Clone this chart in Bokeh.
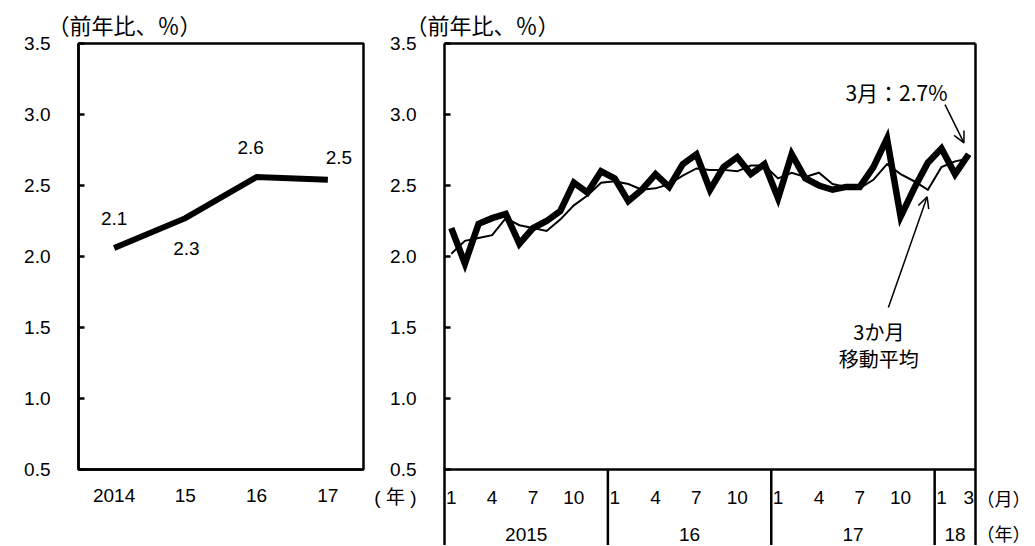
from bokeh.plotting import figure
from bokeh.layouts import row
from bokeh.models import (Range1d, FixedTicker, LinearAxis, Label, Arrow, OpenHead,
                          Span, ColumnDataSource, PrintfTickFormatter, Title)
from bokeh.core.properties import value
from bokeh.embed import file_html
from bokeh.resources import INLINE

# ---------------- data ----------------
annual_labels = ["2014", "15", "16", "17"]
annual_values = [2.06, 2.27, 2.56, 2.54]

month_numbers = [1, 2, 3, 4, 5, 6, 7, 8, 9, 10, 11, 12,
                 1, 2, 3, 4, 5, 6, 7, 8, 9, 10, 11, 12,
                 1, 2, 3, 4, 5, 6, 7, 8, 9, 10, 11, 12,
                 1, 2, 3]
year_labels = ["2015", "16", "17", "18"]
monthly_values = [2.20, 1.95, 2.23, 2.27, 2.30, 2.09, 2.20, 2.25, 2.32, 2.52, 2.45, 2.60,
                  2.55, 2.39, 2.47, 2.58, 2.49, 2.65, 2.72, 2.47, 2.63, 2.70, 2.58, 2.65,
                  2.41, 2.72, 2.55, 2.50, 2.47, 2.49, 2.49, 2.63, 2.83, 2.28, 2.48, 2.66,
                  2.76, 2.58, 2.72]
moving_average = [2.02, 2.11, 2.13, 2.15, 2.27, 2.22, 2.20, 2.18, 2.26, 2.36, 2.43, 2.52,
                  2.53, 2.51, 2.47, 2.48, 2.51, 2.57, 2.62, 2.61, 2.61, 2.60, 2.64, 2.64,
                  2.55, 2.59, 2.56, 2.59, 2.51, 2.49, 2.48, 2.54, 2.65, 2.58, 2.53, 2.47,
                  2.63, 2.67, 2.69]
y_ticks = [0.5, 1.0, 1.5, 2.0, 2.5, 3.0, 3.5]
shown_months = [1, 4, 7, 10]
unit_title = "（前年比、％）"

# ---------------- style ----------------
NUM_FONT = "Liberation Sans"
JP_FONT = "Noto Sans CJK JP"
MIX_FONT = "Liberation Sans, Noto Sans CJK JP"
BLACK = "#000000"
AXIS_W = 2.5
FS = "19px"
Y_TOP = 3.5
PX_PER_UNIT = 142.0
MONTH_ROW = 0.3     # value level of the month-label row under the axis
YEAR_ROW = 0.04     # value level of the year-label row


def style_y_axis(ax, extra_ticks=(), overrides=None):
    ax.ticker = FixedTicker(ticks=list(y_ticks) + list(extra_ticks), minor_ticks=y_ticks)
    ax.formatter = PrintfTickFormatter(format="%.1f")
    if overrides:
        ax.major_label_overrides = overrides
    ax.axis_line_color = BLACK
    ax.axis_line_width = AXIS_W
    ax.major_tick_line_color = None
    ax.major_tick_in = 0
    ax.major_tick_out = 0
    ax.minor_tick_in = 6
    ax.minor_tick_out = 0
    ax.minor_tick_line_width = AXIS_W
    ax.minor_tick_line_color = BLACK
    ax.major_label_standoff = 28
    ax.major_label_text_font = MIX_FONT
    ax.major_label_text_font_size = FS
    ax.major_label_text_color = BLACK


def line_only_axis():
    ax = LinearAxis(ticker=FixedTicker(ticks=[]))
    ax.axis_line_color = BLACK
    ax.axis_line_width = AXIS_W
    ax.major_tick_line_color = None
    ax.minor_tick_line_color = None
    ax.major_tick_out = 0
    ax.major_tick_in = 0
    ax.major_label_standoff = 0
    ax.major_label_text_font_size = "0px"
    return ax


def unit_title_obj(offset):
    return Title(text=unit_title, align="left", offset=offset, standoff=7,
                 text_font=JP_FONT, text_font_size="22px", text_font_style="normal",
                 text_color=BLACK)


# ---------------- left panel: annual ----------------
pA = figure(frame_width=285, frame_height=426,
            min_border_left=78, min_border_right=2, min_border_top=43, min_border_bottom=76,
            x_range=Range1d(-0.5, len(annual_values) - 0.5), y_range=Range1d(0.5, Y_TOP),
            output_backend="svg", toolbar_location=None)
pA.grid.visible = False
pA.outline_line_color = BLACK
pA.outline_line_width = AXIS_W
style_y_axis(pA.yaxis[0])
xa = pA.xaxis[0]
xa.ticker = FixedTicker(ticks=list(range(len(annual_labels))))
xa.major_label_overrides = {i: lab for i, lab in enumerate(annual_labels)}
xa.major_tick_line_color = None
xa.minor_tick_line_color = None
xa.major_tick_out = 0
xa.axis_line_color = BLACK
xa.axis_line_width = AXIS_W
xa.major_label_standoff = 19
xa.major_label_text_font = NUM_FONT
xa.major_label_text_font_size = FS
xa.major_label_text_color = BLACK
pA.add_layout(unit_title_obj(-31), "above")

ax_idx = list(range(len(annual_values)))
pA.line(x=ax_idx, y=annual_values, line_width=6, line_color=BLACK, line_join="miter")

label_dx = [0, 1, -6, 11]
label_dy = [-29, 30, -29, -22]
srcA = ColumnDataSource(dict(x=ax_idx, y=annual_values,
                             t=[f"{v:.1f}" for v in annual_values],
                             dx=label_dx, dy=label_dy))
pA.text(x="x", y="y", text="t", x_offset="dx", y_offset="dy", source=srcA,
        text_font=value(NUM_FONT), text_font_size=FS, text_color=BLACK,
        text_align="center", text_baseline="middle")

# ---------------- right panel: monthly ----------------
n = len(monthly_values)
frame_h_B = 502
y_bottom = Y_TOP - frame_h_B / PX_PER_UNIT
pB = figure(frame_width=531, frame_height=frame_h_B,
            min_border_left=79, min_border_right=59, min_border_top=43, min_border_bottom=0,
            x_range=Range1d(-0.5, n - 0.5), y_range=Range1d(y_bottom, Y_TOP),
            x_axis_location=None,
            output_backend="svg", toolbar_location=None)
pB.grid.visible = False
pB.outline_line_color = None
# left axis: value ticks plus the "(年)" unit label of the annual panel's x axis
style_y_axis(pB.yaxis[0], extra_ticks=[MONTH_ROW], overrides={MONTH_ROW: "( 年 )"})

right_ax = LinearAxis(ticker=FixedTicker(ticks=[MONTH_ROW, YEAR_ROW]))
right_ax.major_label_overrides = {MONTH_ROW: "（月）", YEAR_ROW: "（年）"}
right_ax.axis_line_color = BLACK
right_ax.axis_line_width = AXIS_W
right_ax.major_tick_line_color = None
right_ax.minor_tick_line_color = None
right_ax.major_tick_out = 0
right_ax.major_tick_in = 0
right_ax.major_label_standoff = 1
right_ax.major_label_text_font = JP_FONT
right_ax.major_label_text_font_size = "18px"
right_ax.major_label_text_color = BLACK
pB.add_layout(right_ax, "right")
pB.add_layout(line_only_axis(), "above")
pB.add_layout(unit_title_obj(-39), "above")
pB.add_layout(Span(location=0.5, dimension="width", line_color=BLACK, line_width=AXIS_W))

xs = list(range(n))
pB.line(x=xs, y=moving_average, line_width=2, line_color=BLACK, line_join="miter")
pB.line(x=xs, y=monthly_values, line_width=6.5, line_color=BLACK, line_join="miter")

# year separators under the axis
seps = [i - 0.5 for i in range(1, n) if month_numbers[i] == 1]
pB.segment(x0=seps, y0=[0.5] * len(seps), x1=seps, y1=[y_bottom] * len(seps),
           line_color=BLACK, line_width=AXIS_W)

# month labels
mi = [i for i in range(n) if month_numbers[i] in shown_months or i == n - 1]
pB.text(x=mi, y=[MONTH_ROW] * len(mi), text=[str(month_numbers[i]) for i in mi],
        text_font=value(NUM_FONT), text_font_size=FS, text_color=BLACK,
        text_align="center", text_baseline="middle")

# year labels
starts = [0] + [i for i in range(1, n) if month_numbers[i] == 1]
ends = starts[1:] + [n]
year_x = [(s + e - 1) / 2 for s, e in zip(starts, ends)]
pB.text(x=year_x, y=[YEAR_ROW] * len(year_x), text=year_labels,
        text_font=value(NUM_FONT), text_font_size=FS, text_color=BLACK,
        text_align="center", text_baseline="middle")

# annotations
pB.add_layout(Label(x=32.7, y=3.16, text=f"{month_numbers[-1]}月：{monthly_values[-1]:.1f}%",
                    text_font=JP_FONT, text_font_size="21px", text_color=BLACK,
                    text_align="center", text_baseline="middle"))
pB.add_layout(Arrow(end=OpenHead(size=11, line_width=1.5, line_color=BLACK),
                    x_start=36.26, y_start=3.07, x_end=37.65, y_end=2.80,
                    line_width=1.5, line_color=BLACK))
pB.add_layout(Label(x=31.4, y=1.47, text="3か月",
                    text_font=JP_FONT, text_font_size="20px", text_color=BLACK,
                    text_align="center", text_baseline="middle"))
pB.add_layout(Label(x=31.4, y=1.28, text="移動平均",
                    text_font=JP_FONT, text_font_size="20px", text_color=BLACK,
                    text_align="center", text_baseline="middle"))
pB.add_layout(Arrow(end=OpenHead(size=11, line_width=1.5, line_color=BLACK),
                    x_start=32.1, y_start=1.64, x_end=34.95, y_end=2.42,
                    line_width=1.5, line_color=BLACK))

layout = row(pA, pB)
open("out.html", "w").write(file_html(layout, INLINE))
